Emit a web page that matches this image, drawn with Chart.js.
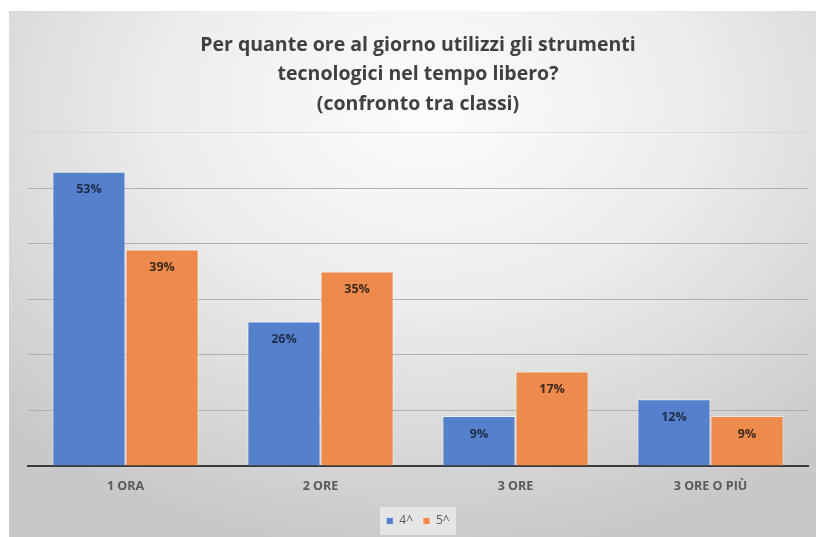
<!DOCTYPE html>
<html>
<head>
<meta charset="utf-8">
<script src="https://cdn.jsdelivr.net/npm/chart.js@4.4.0/dist/chart.umd.min.js"></script>
<style>
  html, body { margin: 0; padding: 0; background: #fff; }
  #frame {
    position: absolute; left: 9px; top: 11px; width: 807px; height: 526px;
    background: radial-gradient(ellipse 75% 85% at 52% 18%, #fdfdfd 0%, #ececec 45%, #d2d2d2 85%, #c8c8c8 100%);
  }
</style>
</head>
<body>
<div id="frame"><canvas id="chart"></canvas></div>
<script>
'use strict';

// ── DATA ───────────────────────────────────────────────────
const CATEGORIES = ['1 ORA', '2 ORE', '3 ORE', '3 ORE O PIÙ'];
const SERIES_NAMES = ['4^', '5^'];
const VALUES_4 = [53, 26, 9, 12];
const VALUES_5 = [39, 35, 17, 9];
const Y_TICKS = [0, 10, 20, 30, 40, 50, 60];

const TITLE_LINES = [
  'Per quante ore al giorno utilizzi gli strumenti',
  'tecnologici nel tempo libero?',
  '(confronto tra classi)'
];

const BLUE = '#5580cb';
const ORANGE = '#ed8a4c';

// value labels drawn just inside the top of each bar
const barLabels = {
  id: 'barLabels',
  afterDatasetsDraw(chart) {
    const ctx = chart.ctx;
    ctx.save();
    ctx.font = 'bold 12.5px "Open Sans"';
    ctx.textAlign = 'center';
    ctx.textBaseline = 'middle';
    chart.data.datasets.forEach((ds, i) => {
      chart.getDatasetMeta(i).data.forEach((bar, j) => {
        ctx.fillStyle = i === 0 ? '#1f2b47' : '#3b2a1c';
        ctx.fillText(ds.data[j] + '%', bar.x, bar.y + 18);
      });
    });
    ctx.restore();
  }
};

// pale box behind the legend
const legendBox = {
  id: 'legendBox',
  beforeDraw(chart) {
    const lg = chart.legend;
    if (!lg) return;
    const w = 76, h = 28;
    const cx = lg.left + lg.width / 2;
    const cy = lg.top + lg.height / 2;
    chart.ctx.save();
    chart.ctx.fillStyle = 'rgba(235,235,235,0.8)';
    chart.ctx.fillRect(cx - w / 2, cy - h / 2, w, h);
    chart.ctx.restore();
  }
};

new Chart(document.getElementById('chart'), {
  type: 'bar',
  data: {
    labels: CATEGORIES,
    datasets: [
      { label: SERIES_NAMES[0], data: VALUES_4, backgroundColor: BLUE, borderColor: 'rgba(255,255,255,0.55)', borderWidth: 1 },
      { label: SERIES_NAMES[1], data: VALUES_5, backgroundColor: ORANGE, borderColor: 'rgba(255,255,255,0.55)', borderWidth: 1 }
    ]
  },
  options: {
    responsive: true,
    maintainAspectRatio: false,
    animation: false,
    layout: { padding: { left: 19, right: 8, top: 0, bottom: 0 } },
    datasets: { bar: { categoryPercentage: 0.75, barPercentage: 1 } },
    plugins: {
      title: {
        display: true,
        text: TITLE_LINES,
        color: '#404040',
        font: { family: 'Open Sans', size: 19.5, weight: 'bold', lineHeight: 1.5 },
        padding: { top: 20, bottom: 14 }
      },
      legend: {
        position: 'bottom',
        labels: {
          boxWidth: 7, boxHeight: 7, padding: 10,
          color: '#595959',
          font: { family: 'Open Sans', size: 12 }
        }
      },
      tooltip: { enabled: false }
    },
    scales: {
      x: {
        grid: { display: false, drawTicks: false },
        border: { display: true, color: '#3a3a3a', width: 2 },
        ticks: { color: '#595959', padding: 13, font: { family: 'Open Sans', size: 12.5, weight: 'bold' } },
        afterFit(scale) { scale.height -= 2; }
      },
      y: {
        min: 0, max: 60,
        afterBuildTicks(scale) { scale.ticks = Y_TICKS.map(v => ({ value: v })); },
        ticks: { display: false },
        border: { display: false },
        grid: {
          drawTicks: false,
          lineWidth: 1,
          color: ctx => ctx.tick && ctx.tick.value === 60 ? 'rgba(190,190,190,0.35)' : '#b0b0b0'
        }
      }
    }
  },
  plugins: [legendBox, barLabels]
});
</script>
</body>
</html>
